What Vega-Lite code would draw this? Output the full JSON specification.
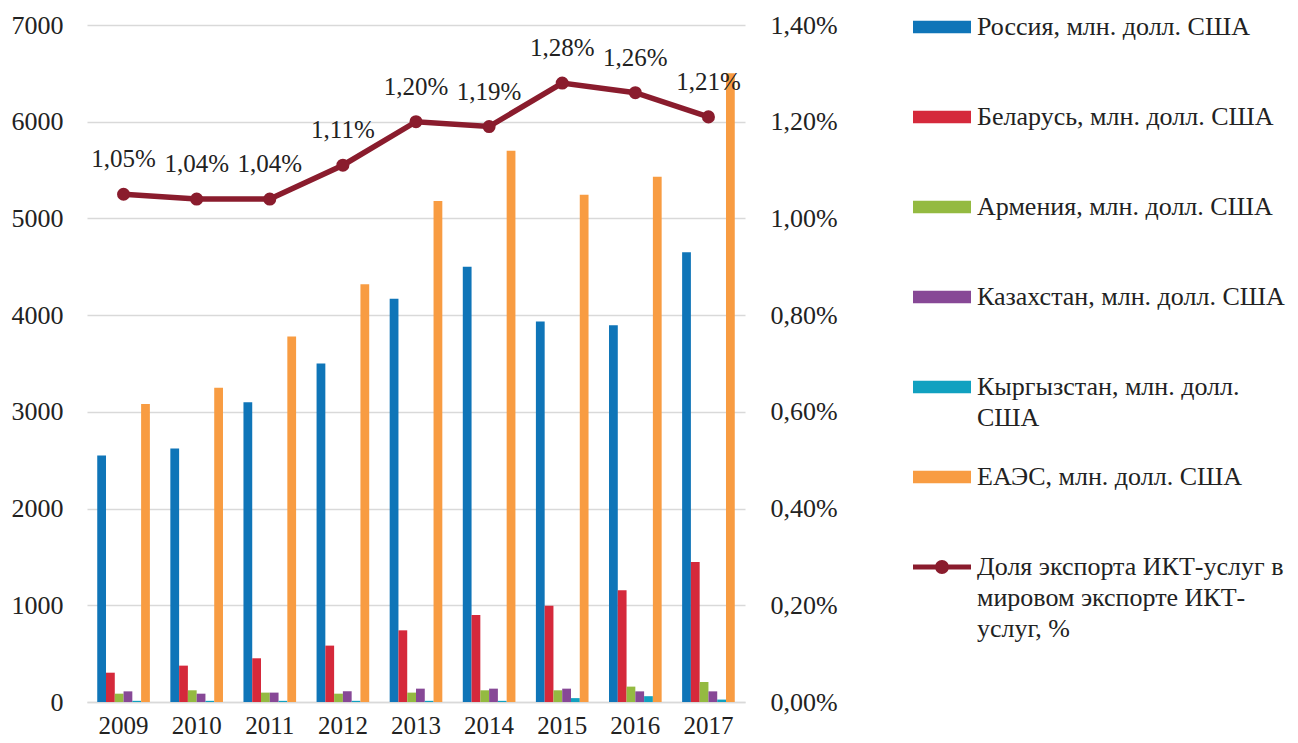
{
  "$schema": "https://vega.github.io/schema/vega-lite/v6.json",
  "width": 658,
  "height": 677,
  "autosize": {"type": "none"},
  "padding": {"left": 87, "top": 25, "right": 553, "bottom": 41},
  "config": {
    "locale": {"number": {"decimal": ",", "thousands": " ", "grouping": [3], "currency": ["", ""]}},
    "view": {"stroke": null},
    "font": "Liberation Serif",
    "axis": {"labelFont": "Liberation Serif", "labelFontSize": 26, "labelColor": "#222222", "ticks": false, "domain": false, "gridColor": "#d9d9d9", "gridWidth": 1.5, "title": null}
  },
  "datasets": {
    "bars": [
      {"year": 2009, "series": "Россия, млн. долл. США", "value": 2550},
      {"year": 2010, "series": "Россия, млн. долл. США", "value": 2620},
      {"year": 2011, "series": "Россия, млн. долл. США", "value": 3100},
      {"year": 2012, "series": "Россия, млн. долл. США", "value": 3500},
      {"year": 2013, "series": "Россия, млн. долл. США", "value": 4170},
      {"year": 2014, "series": "Россия, млн. долл. США", "value": 4500},
      {"year": 2015, "series": "Россия, млн. долл. США", "value": 3935},
      {"year": 2016, "series": "Россия, млн. долл. США", "value": 3895},
      {"year": 2017, "series": "Россия, млн. долл. США", "value": 4650},
      {"year": 2009, "series": "Беларусь, млн. долл. США", "value": 303},
      {"year": 2010, "series": "Беларусь, млн. долл. США", "value": 376},
      {"year": 2011, "series": "Беларусь, млн. долл. США", "value": 452},
      {"year": 2012, "series": "Беларусь, млн. долл. США", "value": 583},
      {"year": 2013, "series": "Беларусь, млн. долл. США", "value": 741},
      {"year": 2014, "series": "Беларусь, млн. долл. США", "value": 900},
      {"year": 2015, "series": "Беларусь, млн. долл. США", "value": 996},
      {"year": 2016, "series": "Беларусь, млн. долл. США", "value": 1155},
      {"year": 2017, "series": "Беларусь, млн. долл. США", "value": 1448},
      {"year": 2009, "series": "Армения, млн. долл. США", "value": 86},
      {"year": 2010, "series": "Армения, млн. долл. США", "value": 121},
      {"year": 2011, "series": "Армения, млн. долл. США", "value": 97},
      {"year": 2012, "series": "Армения, млн. долл. США", "value": 86},
      {"year": 2013, "series": "Армения, млн. долл. США", "value": 97},
      {"year": 2014, "series": "Армения, млн. долл. США", "value": 121},
      {"year": 2015, "series": "Армения, млн. долл. США", "value": 121},
      {"year": 2016, "series": "Армения, млн. долл. США", "value": 159},
      {"year": 2017, "series": "Армения, млн. долл. США", "value": 207},
      {"year": 2009, "series": "Казахстан, млн. долл. США", "value": 110},
      {"year": 2010, "series": "Казахстан, млн. долл. США", "value": 86},
      {"year": 2011, "series": "Казахстан, млн. долл. США", "value": 97},
      {"year": 2012, "series": "Казахстан, млн. долл. США", "value": 110},
      {"year": 2013, "series": "Казахстан, млн. долл. США", "value": 138},
      {"year": 2014, "series": "Казахстан, млн. долл. США", "value": 138},
      {"year": 2015, "series": "Казахстан, млн. долл. США", "value": 138},
      {"year": 2016, "series": "Казахстан, млн. долл. США", "value": 110},
      {"year": 2017, "series": "Казахстан, млн. долл. США", "value": 110},
      {"year": 2009, "series": "Кыргызстан, млн. долл. США", "value": 12},
      {"year": 2010, "series": "Кыргызстан, млн. долл. США", "value": 12},
      {"year": 2011, "series": "Кыргызстан, млн. долл. США", "value": 12},
      {"year": 2012, "series": "Кыргызстан, млн. долл. США", "value": 12},
      {"year": 2013, "series": "Кыргызстан, млн. долл. США", "value": 12},
      {"year": 2014, "series": "Кыргызстан, млн. долл. США", "value": 12},
      {"year": 2015, "series": "Кыргызстан, млн. долл. США", "value": 40},
      {"year": 2016, "series": "Кыргызстан, млн. долл. США", "value": 60},
      {"year": 2017, "series": "Кыргызстан, млн. долл. США", "value": 25},
      {"year": 2009, "series": "ЕАЭС, млн. долл. США", "value": 3080},
      {"year": 2010, "series": "ЕАЭС, млн. долл. США", "value": 3250},
      {"year": 2011, "series": "ЕАЭС, млн. долл. США", "value": 3780},
      {"year": 2012, "series": "ЕАЭС, млн. долл. США", "value": 4320},
      {"year": 2013, "series": "ЕАЭС, млн. долл. США", "value": 5180},
      {"year": 2014, "series": "ЕАЭС, млн. долл. США", "value": 5700},
      {"year": 2015, "series": "ЕАЭС, млн. долл. США", "value": 5245},
      {"year": 2016, "series": "ЕАЭС, млн. долл. США", "value": 5430},
      {"year": 2017, "series": "ЕАЭС, млн. долл. США", "value": 6500}
    ],
    "share": [
      {"year": 2009, "pct": 0.0105},
      {"year": 2010, "pct": 0.0104},
      {"year": 2011, "pct": 0.0104},
      {"year": 2012, "pct": 0.0111},
      {"year": 2013, "pct": 0.0120},
      {"year": 2014, "pct": 0.0119},
      {"year": 2015, "pct": 0.0128},
      {"year": 2016, "pct": 0.0126},
      {"year": 2017, "pct": 0.0121}
    ]
  },
  "layer": [
    {
      "data": {"name": "bars"},
      "mark": {"type": "bar"},
      "encoding": {
        "x": {"field": "year", "type": "nominal", "scale": {"paddingInner": 0.28, "paddingOuter": 0.14},
              "axis": {"labelAngle": 0, "domain": true, "domainColor": "#d9d9d9", "domainWidth": 1.5, "labelPadding": 11, "labelFontSize": 25, "grid": false}},
        "xOffset": {"field": "series", "type": "nominal", "scale": {"domain": ["Россия, млн. долл. США", "Беларусь, млн. долл. США", "Армения, млн. долл. США", "Казахстан, млн. долл. США", "Кыргызстан, млн. долл. США", "ЕАЭС, млн. долл. США"], "paddingInner": 0, "paddingOuter": 0}},
        "y": {"field": "value", "type": "quantitative", "scale": {"domain": [0, 7000]},
              "axis": {"values": [0, 1000, 2000, 3000, 4000, 5000, 6000, 7000], "format": "d", "labelPadding": 24, "grid": true}},
        "color": {
          "field": "series", "type": "nominal",
          "scale": {
            "domain": ["Россия, млн. долл. США", "Беларусь, млн. долл. США", "Армения, млн. долл. США", "Казахстан, млн. долл. США", "Кыргызстан, млн. долл. США", "ЕАЭС, млн. долл. США", "Доля экспорта ИКТ-услуг в мировом экспорте ИКТ-услуг, %"],
            "range": ["#0F75B8", "#D5293B", "#94BA41", "#874896", "#11A1C0", "#F89C42", "#8A1C2D"]
          },
          "legend": {
            "orient": "none", "legendX": 826, "legendY": -43, "title": null,
            "labelFont": "Liberation Serif", "labelFontSize": 26, "labelColor": "#222222", "labelLimit": 400, "labelOffset": 6,
            "symbolSize": 3364, "clipHeight": 90, "rowPadding": 0,
            "labelExpr": "datum.label === 'Кыргызстан, млн. долл. США' ? ['Кыргызстан, млн. долл.', 'США'] : indexof(datum.label, 'Доля') === 0 ? ['Доля экспорта ИКТ-услуг в', 'мировом экспорте ИКТ-', 'услуг, %'] : datum.label",
            "encode": {
              "symbols": {"update": {
                "shape": {"signal": "indexof(datum.value, 'Доля') === 0 ? 'M-1,-0.086H1V0.086H-1Z M0.24,0A0.24,0.24 0 1 1 -0.24,0A0.24,0.24 0 1 1 0.24,0Z' : 'M-1,-0.215H1V0.215H-1Z'"},
                "fill": {"signal": "scale('color', datum.value)"},
                "stroke": {"value": "transparent"},
                "strokeWidth": {"value": 0},
                "opacity": {"value": 1},
                "fillOpacity": {"value": 1}
              }},
              "labels": {"update": {"lineHeight": {"value": 31}}}
            }
          }
        }
      }
    },
    {
      "data": {"name": "share"},
      "encoding": {
        "x": {"field": "year", "type": "nominal"},
        "y": {"field": "pct", "type": "quantitative", "scale": {"domain": [0, 0.014]},
              "axis": {"orient": "right", "values": [0, 0.002, 0.004, 0.006, 0.008, 0.01, 0.012, 0.014], "format": ".2%", "labelPadding": 25, "grid": false}}
      },
      "layer": [
        {"mark": {"type": "line", "strokeWidth": 5.5}, "encoding": {"color": {"datum": "Доля экспорта ИКТ-услуг в мировом экспорте ИКТ-услуг, %"}}},
        {"mark": {"type": "point", "filled": true, "size": 170, "opacity": 1, "color": "#8A1C2D"}, "encoding": {}},
        {"mark": {"type": "text", "font": "Liberation Serif", "fontSize": 25, "color": "#222222", "baseline": "alphabetic", "dy": -27},
         "encoding": {"text": {"field": "pct", "type": "quantitative", "format": ".2%"}}}
      ]
    }
  ],
  "resolve": {"scale": {"y": "independent"}}
}
